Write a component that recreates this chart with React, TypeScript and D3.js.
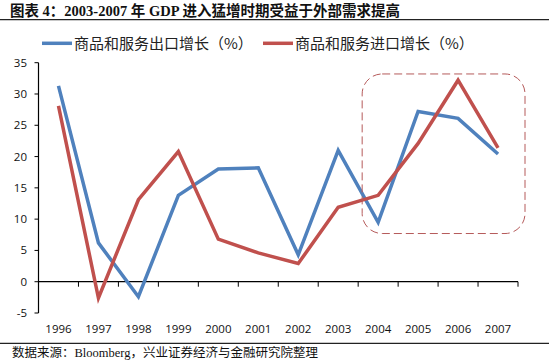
import * as d3 from "d3";

const years = ["1996", "1997", "1998", "1999", "2000", "2001", "2002", "2003", "2004", "2005", "2006", "2007"];
const exportGrowth = [31.3, 6.2, -2.4, 13.8, 18.0, 18.2, 4.3, 21.0, 9.5, 27.2, 26.1, 20.4];
const importGrowth = [28.1, -2.6, 13.1, 20.8, 6.8, 4.6, 2.9, 11.9, 13.8, 22.1, 32.2, 21.4];
const yTicks = [-5, 0, 5, 10, 15, 20, 25, 30, 35];

const seriesNames = ["商品和服务出口增长（%）", "商品和服务进口增长（%）"];
const seriesColors = ["#4f81bd", "#c0504d"];

// highlighted period (categories and value range of the dashed box)
const highlightYears = ["2004", "2007"];
const highlightRange = [7.7, 33.2];

const title = "图表 4：2003-2007 年 GDP 进入猛增时期受益于外部需求提高";
const source = "数据来源：Bloomberg，兴业证券经济与金融研究院整理";

const W = 549;
const H = 363;
const margin = { top: 62.7, left: 38.5, right: 31, bottom: 50 };

export default function App() {
  const x = d3.scaleBand().domain(years).range([margin.left, W - margin.right]);
  const y = d3.scaleLinear().domain([-5, 35]).range([313, margin.top]);
  const bw = x.bandwidth();
  const cx = (d: string) => (x(d) as number) + bw / 2;

  const line = d3
    .line<[string, number]>()
    .x((d) => cx(d[0]))
    .y((d) => y(d[1]));

  const series = [exportGrowth, importGrowth];

  const hx0 = (x(highlightYears[0]) as number) + 4;
  const hx1 = (x(highlightYears[1]) as number) + bw + 7;
  const hy0 = y(highlightRange[1]);
  const hy1 = y(highlightRange[0]);

  const sans = "'Noto Sans CJK SC', sans-serif";
  const tickFont = "'Open Sans', 'Liberation Sans', sans-serif";

  return (
    <svg
      width={W}
      height={H}
      style={{ position: "absolute", left: 0, top: 0, background: "#fff" }}
    >
      <text
        x={10}
        y={16}
        fontSize={14.5}
        fontWeight="bold"
        fontFamily="'Liberation Serif', 'Noto Sans CJK SC', serif"
        fill="#111"
      >
        {title}
      </text>
      <line x1={0} x2={W} y1={19.7} y2={19.7} stroke="#222" strokeWidth={1.3} />

      {/* legend */}
      {[0, 1].map((i) => {
        const lx = i === 0 ? 42 : 263;
        return (
          <g key={i}>
            <line x1={lx} x2={lx + 30} y1={43.3} y2={43.3} stroke={seriesColors[i]} strokeWidth={3.5} />
            <text x={lx + 32} y={49} fontSize={15} fontFamily={sans} fill="#222">
              {seriesNames[i]}
            </text>
          </g>
        );
      })}

      {/* y axis */}
      <line x1={margin.left} x2={margin.left} y1={y(35)} y2={y(-5)} stroke="#000" strokeWidth={1.2} />
      {yTicks.map((t) => (
        <g key={t}>
          <line x1={margin.left - 4} x2={margin.left} y1={y(t)} y2={y(t)} stroke="#000" />
          <text
            x={27}
            y={y(t) + 4}
            textAnchor="end"
            fontSize={11.5}
            fontFamily={tickFont}
            fill="#111"
          >
            {t}
          </text>
        </g>
      ))}

      {/* x axis at zero */}
      <line x1={margin.left} x2={W - margin.right} y1={y(0)} y2={y(0)} stroke="#000" strokeWidth={1.2} />
      {years.map((yr) => (
        <g key={yr}>
          <line
            x1={(x(yr) as number) + bw}
            x2={(x(yr) as number) + bw}
            y1={y(0)}
            y2={y(0) + 5}
            stroke="#000"
          />
          <text
            x={cx(yr)}
            y={333}
            textAnchor="middle"
            fontSize={11.5}
            fontFamily={tickFont}
            fill="#111"
          >
            {yr}
          </text>
        </g>
      ))}

      {/* series */}
      {series.map((vals, i) => (
        <path
          key={i}
          d={line(years.map((yr, j) => [yr, vals[j]] as [string, number])) || ""}
          fill="none"
          stroke={seriesColors[i]}
          strokeWidth={3.5}
          strokeLinejoin="miter"
        />
      ))}

      {/* highlight box */}
      <rect
        x={hx0}
        y={hy0}
        width={hx1 - hx0}
        height={hy1 - hy0}
        rx={20}
        ry={20}
        fill="none"
        stroke="#b55a5a"
        strokeWidth={1}
        strokeDasharray="8,4"
      />

      <line x1={0} x2={W} y1={343.3} y2={343.3} stroke="#222" strokeWidth={1.3} />
      <text
        x={12}
        y={357}
        fontSize={12.5}
        fontFamily="'Liberation Serif', 'Noto Sans CJK SC', serif"
        fill="#111"
      >
        {source}
      </text>
    </svg>
  );
}
